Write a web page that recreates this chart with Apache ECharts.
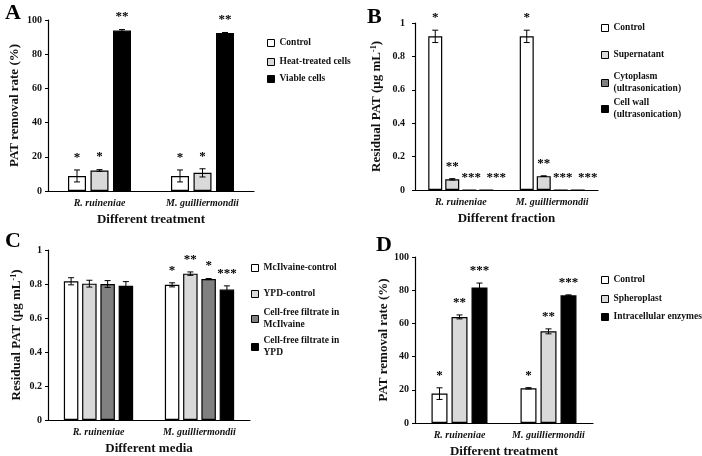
<!DOCTYPE html>
<html>
<head>
<meta charset="utf-8">
<script src="https://cdn.jsdelivr.net/npm/echarts@6/dist/echarts.min.js"></script>
<style>
html, body { margin: 0; padding: 0; background: #fff; }
#chart { width: 702px; height: 456px; }
</style>
</head>
<body>
<div id="chart"></div>
<script>
const categories = ['R. ruineniae', 'M. guilliermondii'];

// A: removal by heat-treated / viable cells
const aNames = ['Control', 'Heat-treated cells', 'Viable cells'];
const aMean = [[8.8, 8.8], [12.0, 10.6], [93.8, 92.4]];
const aErr = [[3.5, 3.5], [0.5, 2.4], [0.6, 0.3]];
const aSig = [['*', '*'], ['*', '*'], ['**', '**']];

// B: residual PAT in fractions
const bNames = ['Control', 'Supernatant', 'Cytoplasm\n(ultrasonication)', 'Cell wall\n(ultrasonication)'];
const bMean = [[0.92, 0.92], [0.064, 0.083], [0, 0], [0, 0]];
const bErr = [[0.037, 0.037], [0.004, 0.002], [0, 0], [0, 0]];
const bSig = [['*', '*'], ['**', '**'], ['***', '***'], ['***', '***']];

// C: residual PAT in different media
const cNames = ['McIlvaine-control', 'YPD-control', 'Cell-free filtrate in\nMcIlvaine', 'Cell-free filtrate in\nYPD'];
const cMean = [[0.816, 0.795], [0.802, 0.861], [0.800, 0.829], [0.790, 0.767]];
const cErr = [[0.021, 0.012], [0.02, 0.01], [0.02, 0.003], [0.024, 0.022]];
const cSig = [['', '*'], ['', '**'], ['', '*'], ['', '***']];

// D: spheroplast / intracellular enzymes
const dNames = ['Control', 'Spheroplast', 'Intracellular enzymes'];
const dMean = [[17.7, 20.9], [63.9, 55.2], [81.7, 76.9]];
const dErr = [[3.5, 0.4], [1.2, 1.5], [2.6, 0.3]];
const dSig = [['*', '*'], ['**', '**'], ['***', '***']];

const FONT = '"Liberation Serif", "Times New Roman", serif';
const TXT = '#111';
const LH = 12;

const panels = [
    { letter: 'A', letterPos: [5, 2], grid: { left: 48, top: 20, width: 206, height: 171 },
      names: aNames, mean: aMean, err: aErr, sig: aSig, sigShift: [0, 0, 0],
      colors: ['#ffffff', '#d9d9d9', '#000000'], max: 100, interval: 20,
      yName: 'PAT removal rate (%)', yGap: 27, labelMargin: 6, xName: 'Different treatment',
      bw: 18, gap: 0.25, legendLeft: 267, legendY: [43, 62, 79] },
    { letter: 'B', letterPos: [367, 6], grid: { left: 415, top: 23, width: 183, height: 167 },
      names: bNames, mean: bMean, err: bErr, sig: bSig, sigShift: [0, 0, 2, 10],
      colors: ['#ffffff', '#d9d9d9', '#808080', '#000000'], max: 1, interval: 0.2,
      yName: 'Residual PAT (μg mL{sup|-1})', yGap: 31, labelMargin: 10, xName: 'Different fraction',
      bw: 14, gap: 0.215, legendLeft: 601, legendY: [28, 55, 83, 109] },
    { letter: 'C', letterPos: [5, 230], grid: { left: 48, top: 250, width: 202, height: 170 },
      names: cNames, mean: cMean, err: cErr, sig: cSig, sigShift: [0, 0, 0, 0],
      colors: ['#ffffff', '#d9d9d9', '#808080', '#000000'], max: 1, interval: 0.2,
      yName: 'Residual PAT (μg mL{sup|-1})', yGap: 24, labelMargin: 6, xName: 'Different media',
      bw: 14.5, gap: 0.26, legendLeft: 251, legendY: [268, 294, 319, 347] },
    { letter: 'D', letterPos: [376, 234], grid: { left: 415, top: 257, width: 178, height: 166 },
      names: dNames, mean: dMean, err: dErr, sig: dSig, sigShift: [0, 0, 0],
      colors: ['#ffffff', '#d9d9d9', '#000000'], max: 100, interval: 20,
      yName: 'PAT removal rate (%)', yGap: 23, labelMargin: 6, xName: 'Different treatment',
      bw: 16, gap: 0.25, legendLeft: 601, legendY: [280, 299, 317] }
];

const nameStyle = {
    fontFamily: FONT, fontWeight: 'bold', fontSize: 13, color: TXT,
    rich: { sup: { fontFamily: FONT, fontWeight: 'bold', fontSize: 8, color: TXT, padding: [0, 0, 6, 0] } }
};

function legendItem(name, left, cy) {
    const twoLine = name.indexOf('\n') >= 0;
    return {
        data: [name], left: left, top: twoLine ? cy - 1.5 * LH : cy - LH / 2,
        orient: 'vertical', padding: 0, icon: 'rect', itemWidth: 7, itemHeight: 7,
        selectedMode: false,
        itemStyle: { borderColor: '#000', borderWidth: 1 },
        textStyle: { fontFamily: FONT, fontWeight: 'bold', fontSize: 9.5, color: TXT,
            lineHeight: LH, padding: twoLine ? [LH, 0, 0, 0] : 0 }
    };
}

function errorSeries(p, idx, k) {
    const n = p.names.length;
    const off = (k - (n - 1) / 2) * p.bw * (1 + p.gap);
    const sig = p.sig[k];
    const shift = p.sigShift[k];
    return {
        type: 'custom', xAxisIndex: idx, yAxisIndex: idx, z: 5, silent: true,
        data: p.mean[k].map((m, i) => [i, m, p.err[k][i]]),
        renderItem: function (params, api) {
            const i = api.value(0), m = api.value(1), e = api.value(2);
            const x = api.coord([i, m])[0] + off;
            const yTop = api.coord([i, m + e])[1];
            const yBot = api.coord([i, m - e])[1];
            const children = [];
            if (e > 0) {
                const ls = { stroke: '#000', lineWidth: 1 };
                children.push({ type: 'line', shape: { x1: x, y1: yTop, x2: x, y2: yBot }, style: ls });
                children.push({ type: 'line', shape: { x1: x - 3, y1: yTop, x2: x + 3, y2: yTop }, style: ls });
                children.push({ type: 'line', shape: { x1: x - 3, y1: yBot, x2: x + 3, y2: yBot }, style: ls });
            }
            children.push({
                type: 'text',
                style: { text: sig[params.dataIndex], x: x + shift, y: yTop - 6, align: 'center',
                    verticalAlign: 'bottom', font: 'bold 13px ' + FONT, fill: '#000' }
            });
            return { type: 'group', children: children };
        }
    };
}

const option = {
    animation: false,
    backgroundColor: '#fff',
    title: [], grid: [], xAxis: [], yAxis: [], legend: [], series: []
};

panels.forEach(function (p, idx) {
    option.title.push({ text: p.letter, left: p.letterPos[0], top: p.letterPos[1], padding: 0,
        textStyle: { fontFamily: FONT, fontWeight: 'bold', fontSize: 22, color: '#000' } });
    option.grid.push(Object.assign({ outerBoundsMode: 'none' }, p.grid));
    option.xAxis.push({
        gridIndex: idx, type: 'category', data: categories,
        axisLine: { lineStyle: { color: '#000', width: 1.2 } },
        axisTick: { show: false },
        axisLabel: { interval: 0, fontFamily: FONT, fontStyle: 'italic', fontWeight: 'bold', fontSize: 10, color: TXT, margin: 7 },
        name: p.xName, nameLocation: 'middle', nameGap: 22, nameTextStyle: nameStyle
    });
    option.yAxis.push({
        gridIndex: idx, type: 'value', min: 0, max: p.max, interval: p.interval,
        axisLine: { show: true, lineStyle: { color: '#000', width: 1.2 } },
        axisTick: { show: true, length: 3, lineStyle: { color: '#000' } },
        splitLine: { show: false },
        axisLabel: { fontFamily: FONT, fontWeight: 'bold', fontSize: 10, color: TXT, margin: p.labelMargin },
        name: p.yName, nameLocation: 'middle', nameGap: p.yGap, nameTextStyle: nameStyle
    });
    p.names.forEach(function (name, k) {
        option.legend.push(legendItem(name, p.legendLeft, p.legendY[k]));
        option.series.push({
            type: 'bar', name: name, xAxisIndex: idx, yAxisIndex: idx, silent: true,
            data: p.mean[k], barWidth: p.bw, barGap: (p.gap * 100) + '%',
            itemStyle: { color: p.colors[k], borderColor: '#000', borderWidth: 1.2 }
        });
        option.series.push(errorSeries(p, idx, k));
    });
});

const chart = echarts.init(document.getElementById('chart'), null, { renderer: 'canvas' });
chart.setOption(option);
</script>
</body>
</html>
